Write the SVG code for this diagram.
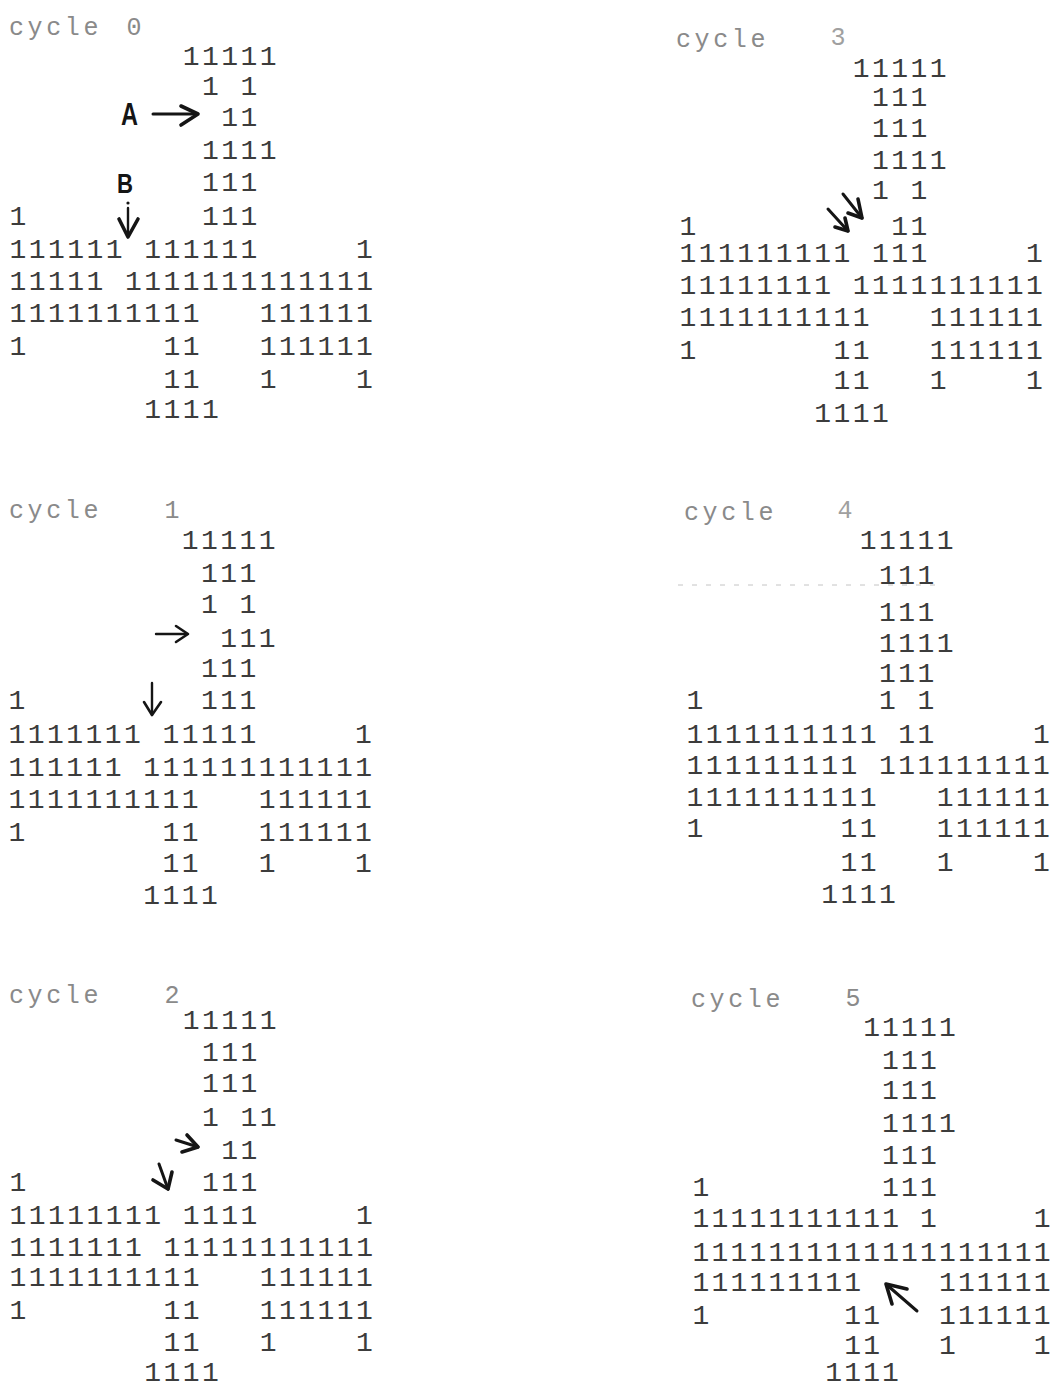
<svg xmlns="http://www.w3.org/2000/svg" width="1053" height="1389" viewBox="0 0 1053 1389">
<style>
.d{font-family:"Liberation Mono","DejaVu Sans Mono",monospace;font-size:28px;letter-spacing:2.45px;fill:#3c3c3c}
.d5{letter-spacing:2.15px}
.lb{font-family:"Liberation Mono","DejaVu Sans Mono",monospace;font-size:25px;letter-spacing:3.6px;fill:#8a8a8a}
.ln{font-family:"Liberation Mono","DejaVu Sans Mono",monospace;font-size:25px;fill:#8a8a8a}
.lt{font-family:"Liberation Sans",Arial,sans-serif;font-weight:bold;fill:#151515}
.ar{fill:none;stroke:#151515;stroke-width:3;stroke-linecap:round;stroke-linejoin:round}
.ah{fill:none;stroke:#151515;stroke-width:3.6;stroke-linecap:round;stroke-linejoin:round}
</style>
<rect width="1053" height="1389" fill="#ffffff"/>

<g id="cycle-0" transform="translate(9.6,0)">
<text class="lb" x="-0.6" y="35">cycle</text><text class="ln" x="116.9" y="35">0</text>
<text class="d" x="173.25" y="65">11111</text>
<text class="d" x="192.5" y="95">1</text><text class="d" x="231" y="95">1</text>
<text class="d" x="211.75" y="126">11</text>
<text class="d" x="192.5" y="159">1111</text>
<text class="d" x="192.5" y="191">111</text>
<text class="d" x="0" y="225">1</text><text class="d" x="192.5" y="225">111</text>
<text class="d" x="0" y="258">111111</text><text class="d" x="134.75" y="258">111111</text><text class="d" x="346.5" y="258">1</text>
<text class="d" x="0" y="290">11111</text><text class="d" x="115.5" y="290">1111111111111</text>
<text class="d" x="0" y="322">1111111111</text><text class="d" x="250.25" y="322">111111</text>
<text class="d" x="0" y="355">1</text><text class="d" x="154" y="355">11</text><text class="d" x="250.25" y="355">111111</text>
<text class="d" x="154" y="388">11</text><text class="d" x="250.25" y="388">1</text><text class="d" x="346.5" y="388">1</text>
<text class="d" x="134.75" y="418">1111</text>
</g>

<g id="cycle-1" transform="translate(8.6,0)">
<text class="lb" x="0.4" y="518">cycle</text><text class="ln" x="155.9" y="518">1</text>
<text class="d" x="173.25" y="549">11111</text>
<text class="d" x="192.5" y="582">111</text>
<text class="d" x="192.5" y="613">1</text><text class="d" x="231" y="613">1</text>
<text class="d" x="211.75" y="647">111</text>
<text class="d" x="192.5" y="677">111</text>
<text class="d" x="0" y="709">1</text><text class="d" x="192.5" y="709">111</text>
<text class="d" x="0" y="743">1111111</text><text class="d" x="154" y="743">11111</text><text class="d" x="346.5" y="743">1</text>
<text class="d" x="0" y="776">111111</text><text class="d" x="134.75" y="776">111111111111</text>
<text class="d" x="0" y="808">1111111111</text><text class="d" x="250.25" y="808">111111</text>
<text class="d" x="0" y="841">1</text><text class="d" x="154" y="841">11</text><text class="d" x="250.25" y="841">111111</text>
<text class="d" x="154" y="872">11</text><text class="d" x="250.25" y="872">1</text><text class="d" x="346.5" y="872">1</text>
<text class="d" x="134.75" y="904">1111</text>
</g>

<g id="cycle-2" transform="translate(9.6,0)">
<text class="lb" x="-0.6" y="1003">cycle</text><text class="ln" x="154.9" y="1003">2</text>
<text class="d" x="173.25" y="1029">11111</text>
<text class="d" x="192.5" y="1061">111</text>
<text class="d" x="192.5" y="1092">111</text>
<text class="d" x="192.5" y="1126">1</text><text class="d" x="231" y="1126">11</text>
<text class="d" x="211.75" y="1159">11</text>
<text class="d" x="0" y="1191">1</text><text class="d" x="192.5" y="1191">111</text>
<text class="d" x="0" y="1224">11111111</text><text class="d" x="173.25" y="1224">1111</text><text class="d" x="346.5" y="1224">1</text>
<text class="d" x="0" y="1256">1111111</text><text class="d" x="154" y="1256">11111111111</text>
<text class="d" x="0" y="1286">1111111111</text><text class="d" x="250.25" y="1286">111111</text>
<text class="d" x="0" y="1319">1</text><text class="d" x="154" y="1319">11</text><text class="d" x="250.25" y="1319">111111</text>
<text class="d" x="154" y="1351">11</text><text class="d" x="250.25" y="1351">1</text><text class="d" x="346.5" y="1351">1</text>
<text class="d" x="134.75" y="1381">1111</text>
</g>

<g id="cycle-3" transform="translate(679.6,0)">
<text class="lb" x="-3.6" y="47">cycle</text><text class="ln" x="150.9" y="45" style="fill:#a0a0a0">3</text>
<text class="d" x="173.25" y="77">11111</text>
<text class="d" x="192.5" y="106">111</text>
<text class="d" x="192.5" y="137">111</text>
<text class="d" x="192.5" y="169">1111</text>
<text class="d" x="192.5" y="199">1</text><text class="d" x="231" y="199">1</text>
<text class="d" x="0" y="235">1</text><text class="d" x="211.75" y="235">11</text>
<text class="d" x="0" y="262">111111111</text><text class="d" x="192.5" y="262">111</text><text class="d" x="346.5" y="262">1</text>
<text class="d" x="0" y="294">11111111</text><text class="d" x="173.25" y="294">1111111111</text>
<text class="d" x="0" y="326">1111111111</text><text class="d" x="250.25" y="326">111111</text>
<text class="d" x="0" y="359">1</text><text class="d" x="154" y="359">11</text><text class="d" x="250.25" y="359">111111</text>
<text class="d" x="154" y="389">11</text><text class="d" x="250.25" y="389">1</text><text class="d" x="346.5" y="389">1</text>
<text class="d" x="134.75" y="422">1111</text>
</g>

<g id="cycle-4" transform="translate(686.6,0)">
<text class="lb" x="-2.6" y="520">cycle</text><text class="ln" x="150.9" y="518" style="fill:#a0a0a0">4</text>
<text class="d" x="173.25" y="549">11111</text>
<text class="d" x="192.5" y="584">111</text>
<text class="d" x="192.5" y="621">111</text>
<text class="d" x="192.5" y="652">1111</text>
<text class="d" x="192.5" y="682">111</text>
<text class="d" x="0" y="709">1</text><text class="d" x="192.5" y="709">1</text><text class="d" x="231" y="709">1</text>
<text class="d" x="0" y="743">1111111111</text><text class="d" x="211.75" y="743">11</text><text class="d" x="346.5" y="743">1</text>
<text class="d" x="0" y="774">111111111</text><text class="d" x="192.5" y="774">111111111</text>
<text class="d" x="0" y="806">1111111111</text><text class="d" x="250.25" y="806">111111</text>
<text class="d" x="0" y="837">1</text><text class="d" x="154" y="837">11</text><text class="d" x="250.25" y="837">111111</text>
<text class="d" x="154" y="871">11</text><text class="d" x="250.25" y="871">1</text><text class="d" x="346.5" y="871">1</text>
<text class="d" x="134.75" y="903">1111</text>
</g>

<g id="cycle-5" transform="translate(692.6,0)">
<text class="lb" x="-1.6" y="1007">cycle</text><text class="ln" x="152.9" y="1006">5</text>
<text class="d d5" x="170.55" y="1036">11111</text>
<text class="d d5" x="189.5" y="1069">111</text>
<text class="d d5" x="189.5" y="1099">111</text>
<text class="d d5" x="189.5" y="1132">1111</text>
<text class="d d5" x="189.5" y="1164">111</text>
<text class="d d5" x="0" y="1196">1</text><text class="d d5" x="189.5" y="1196">111</text>
<text class="d d5" x="0" y="1227">11111111111</text><text class="d d5" x="227.4" y="1227">1</text><text class="d d5" x="341.1" y="1227">1</text>
<text class="d d5" x="0" y="1261">1111111111111111111</text>
<text class="d d5" x="0" y="1291">111111111</text><text class="d d5" x="246.35" y="1291">111111</text>
<text class="d d5" x="0" y="1324">1</text><text class="d d5" x="151.6" y="1324">11</text><text class="d d5" x="246.35" y="1324">111111</text>
<text class="d d5" x="151.6" y="1354">11</text><text class="d d5" x="246.35" y="1354">1</text><text class="d d5" x="341.1" y="1354">1</text>
<text class="d d5" x="132.65" y="1381">1111</text>
</g>

<g id="labels">
<text class="lt" x="121" y="125" font-size="32" textLength="17" lengthAdjust="spacingAndGlyphs">A</text>
<text class="lt" x="117" y="193" font-size="28" textLength="16" lengthAdjust="spacingAndGlyphs">B</text>
</g>

<g id="scan-mark">
<line x1="678" y1="585" x2="938" y2="585" stroke="#c4c4c4" stroke-width="1" stroke-dasharray="5 9"/>
</g>

<g id="connectors">
<path class="ar" d="M153,114 H197"/><path class="ah" d="M181,106 L198,114 L181,125"/>
<circle cx="128" cy="203" r="1.6" fill="#151515"/>
<path class="ar" d="M128,208 V236" style="stroke-width:2.4"/><path class="ah" d="M119,219 L128,237 L138,219"/>
<path class="ar" d="M156,634 H187" style="stroke-width:2.4"/><path class="ar" d="M176,626 L188,634 L176,642" style="stroke-width:2.6"/>
<path class="ar" d="M152,683 V715" style="stroke-width:2.4"/><path class="ar" d="M144,702 L152,715 L161,702" style="stroke-width:2.6"/>
<path class="ar" d="M176,1140 L198,1147"/><path class="ah" d="M187,1135 L198,1147 L182,1152"/>
<path class="ar" d="M159,1164 L168,1189"/><path class="ah" d="M153,1180 L168,1189 L172,1172"/>
<path class="ar" d="M843,194 L862,218"/><path class="ah" d="M858,199 L862,218 L848,213"/>
<path class="ar" d="M828,209 L848,231"/><path class="ah" d="M845,218 L848,231 L835,227"/>
<path class="ar" d="M917,1311 L887,1285"/><path class="ah" d="M907,1289 L886,1284 L892,1304"/>
</g>
</svg>
